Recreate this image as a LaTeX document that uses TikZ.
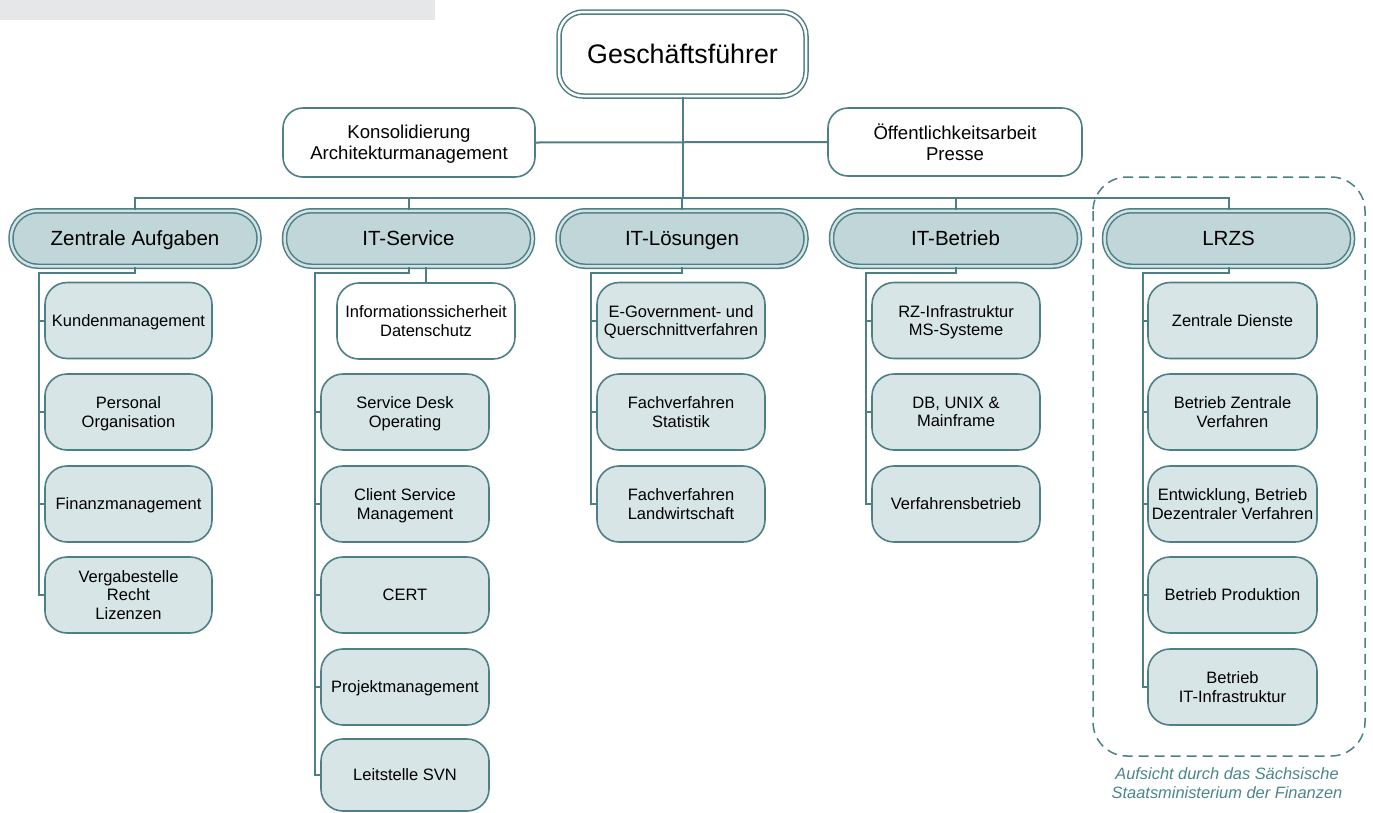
\documentclass[tikz,border=0pt]{standalone}
\usepackage{fontspec}
\setmainfont{Liberation Sans}
\definecolor{tealline}{HTML}{4D7F85}
\definecolor{lvtwo}{HTML}{C0D6D8}
\definecolor{lvchild}{HTML}{D8E5E6}
\definecolor{captcol}{HTML}{4A858C}
\definecolor{topgray}{HTML}{E6E7E8}
\begin{document}
\begin{tikzpicture}[x=1pt,y=-1pt,
  every node/.style={text depth=0pt},
  conn/.style={draw=tealline,line width=2pt},
  topbox/.style={draw=tealline,line width=1.5pt,double=white,double distance=2.5pt,fill=white,rounded corners=24pt,minimum width=247pt,minimum height=84pt,inner sep=0pt,font=\fontsize{26.8}{30}\selectfont},
  staffbox/.style={draw=tealline,line width=1.6pt,fill=white,rounded corners=20pt,minimum height=69pt,minimum width=252pt,inner sep=0pt,align=center,font=\fontsize{18.6}{20.5}\selectfont},
  deptbox/.style={draw=tealline,line width=1.5pt,double=lvtwo!70!white,double distance=2.5pt,fill=lvtwo,rounded corners=27pt,minimum width=248pt,minimum height=55.5pt,inner sep=0pt,font=\fontsize{20.5}{24}\selectfont},
  unitbox/.style={draw=tealline,line width=1.6pt,fill=lvchild,rounded corners=22pt,minimum width=167pt,minimum height=76pt,inner sep=0pt,align=center,font=\fontsize{16.5}{18.5}\selectfont},
  whiteunit/.style={unitbox,fill=white,minimum width=178pt},
]
\useasboundingbox (0,0) rectangle (1373,812);
\fill[topgray] (0,0) rectangle (435,20);

% top
\node[topbox] (gf) at (682.5,54) {Geschäftsführer};
\node[staffbox] (ka) at (409,142.5) {Konsolidierung\\Architekturmanagement};
\node[staffbox,minimum width=254pt,minimum height=68pt] (oa) at (955,142) {Öffentlichkeitsarbeit\\Presse};
\coordinate (bus) at (0,198);

% departments
\node[deptbox] (za) at (135,238.5) {Zentrale Aufgaben};
\node[deptbox] (its) at (408.5,238.5) {IT-Service};
\node[deptbox] (itl) at (682,238.5) {IT-Lösungen};
\node[deptbox] (itb) at (955.5,238.5) {IT-Betrieb};
\node[deptbox] (lrzs) at (1228.5,238.5) {LRZS};

% Zentrale Aufgaben units
\node[unitbox] (za1) at (128.5,320.5) {Kundenmanagement};
\node[unitbox] (za2) at (128.5,412) {Personal\\Organisation};
\node[unitbox] (za3) at (128.5,504) {Finanzmanagement};
\node[unitbox] (za4) at (128.5,595) {Vergabestelle\\Recht\\Lizenzen};

% IT-Service units
\node[whiteunit] (its0) at (426,321) {Informationssicherheit\\Datenschutz};
\node[unitbox,minimum width=168pt] (its1) at (405,412) {Service Desk\\Operating};
\node[unitbox,minimum width=168pt] (its2) at (405,504) {Client Service\\Management};
\node[unitbox,minimum width=168pt] (its3) at (405,595) {CERT};
\node[unitbox,minimum width=168pt] (its4) at (405,687) {Projektmanagement};
\node[unitbox,minimum width=168pt,minimum height=72pt] (its5) at (405,775) {Leitstelle SVN};

% IT-Loesungen units
\node[unitbox,minimum width=168pt] (itl1) at (681,320.5) {E-Government- und\\Querschnittverfahren};
\node[unitbox,minimum width=168pt] (itl2) at (681,412) {Fachverfahren\\Statistik};
\node[unitbox,minimum width=168pt] (itl3) at (681,504) {Fachverfahren\\Landwirtschaft};

% IT-Betrieb units
\node[unitbox,minimum width=168pt] (itb1) at (956,320.5) {RZ-Infrastruktur\\MS-Systeme};
\node[unitbox,minimum width=168pt] (itb2) at (956,412) {DB, UNIX \&\\Mainframe};
\node[unitbox,minimum width=168pt] (itb3) at (956,504) {Verfahrensbetrieb};

% LRZS units
\node[unitbox,minimum width=169pt] (lr1) at (1232.5,320.5) {Zentrale Dienste};
\node[unitbox,minimum width=169pt] (lr2) at (1232.5,412) {Betrieb Zentrale\\Verfahren};
\node[unitbox,minimum width=169pt] (lr3) at (1232.5,504) {Entwicklung, Betrieb\\Dezentraler Verfahren};
\node[unitbox,minimum width=169pt] (lr4) at (1232.5,595) {Betrieb Produktion};
\node[unitbox,minimum width=169pt] (lr5) at (1232.5,687) {Betrieb\\IT-Infrastruktur};

% connectors top
\draw[conn] (ka.east) -- (oa.west);
\draw[conn] (gf.south) -- (gf.south |- bus);
\draw[conn] (za.north) |- (lrzs.north |- bus) -- (lrzs.north);
\foreach \d in {its,itl,itb}{\draw[conn] (\d.north) -- (\d.north |- bus);}

% rails
\coordinate (hl) at (0,273);
\draw[conn] (za.south) |- ([xshift=-5pt]za1.west |- hl) -- ([xshift=-5pt]za4.west) -- (za4.west);
\foreach \u in {za1,za2,za3}{\draw[conn] ([xshift=-5pt]\u.west) -- (\u.west);}
\draw[conn] (its.south) |- ([xshift=-5pt]its1.west |- hl) -- ([xshift=-5pt]its5.west) -- (its5.west);
\foreach \u in {its1,its2,its3,its4}{\draw[conn] ([xshift=-5pt]\u.west) -- (\u.west);}
\draw[conn] (its0.north |- its.south) -- (its0.north);
\draw[conn] (itl.south) |- ([xshift=-5pt]itl1.west |- hl) -- ([xshift=-5pt]itl3.west) -- (itl3.west);
\foreach \u in {itl1,itl2}{\draw[conn] ([xshift=-5pt]\u.west) -- (\u.west);}
\draw[conn] (itb.south) |- ([xshift=-5pt]itb1.west |- hl) -- ([xshift=-5pt]itb3.west) -- (itb3.west);
\foreach \u in {itb1,itb2}{\draw[conn] ([xshift=-5pt]\u.west) -- (\u.west);}
\draw[conn] (lrzs.south) |- ([xshift=-4pt]lr1.west |- hl) -- ([xshift=-4pt]lr5.west) -- (lr5.west);
\foreach \u in {lr1,lr2,lr3,lr4}{\draw[conn] ([xshift=-4pt]\u.west) -- (\u.west);}

% dashed LRZS frame
\draw[tealline,line width=1.5pt,dash pattern=on 10pt off 6pt,rounded corners=34pt] (1093,177) rectangle (1365,756);
\node[text=captcol,align=center,font=\fontsize{16.4}{18.5}\selectfont\itshape,inner sep=0pt] (capt) at (1227,783) {Aufsicht durch das Sächsische\\Staatsministerium der Finanzen};
\end{tikzpicture}
\end{document}
